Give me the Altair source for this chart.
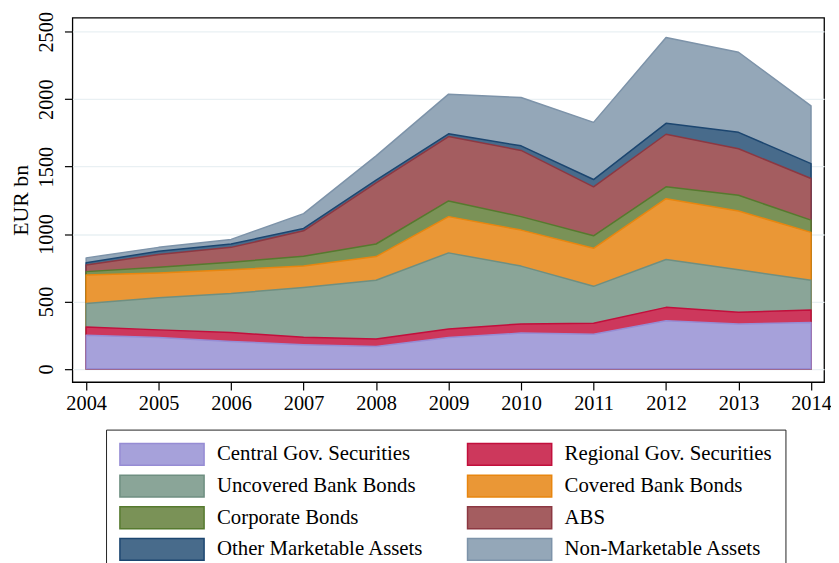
import altair as alt
import pandas as pd

years = [2004, 2005, 2006, 2007, 2008, 2009, 2010, 2011, 2012, 2013, 2014]

series_names = [
    "Central Gov. Securities",
    "Regional Gov. Securities",
    "Uncovered Bank Bonds",
    "Covered Bank Bonds",
    "Corporate Bonds",
    "ABS",
    "Other Marketable Assets",
    "Non-Marketable Assets",
]

central = [250, 232, 203, 179, 166, 232, 265, 257, 357, 333, 343]
regional = [60, 57, 66, 56, 55, 64, 68, 81, 99, 86, 93]
uncovered = [174, 238, 290, 368, 436, 564, 429, 274, 355, 316, 221]
covered = [212, 183, 176, 159, 176, 269, 267, 282, 451, 436, 355]
corporate = [25, 44, 56, 73, 93, 116, 100, 93, 88, 116, 91]
abs_vals = [49, 94, 110, 189, 453, 478, 491, 363, 390, 345, 309]
other = [17, 24, 25, 17, 20, 20, 34, 54, 81, 122, 110]
nonmarket = [36, 29, 34, 110, 181, 294, 358, 424, 637, 594, 429]

series_values = [central, regional, uncovered, covered, corporate, abs_vals, other, nonmarket]

fill_colors = ["#a6a1da", "#cd385c", "#8aa598", "#ea9736", "#7a9257", "#a45d60", "#486b8b", "#94a7b8"]
edge_colors = ["#968cd4", "#c20f3c", "#6f8f81", "#e8860f", "#567a2e", "#8c3842", "#1c4670", "#7d93a9"]

y_ticks = [0, 500, 1000, 1500, 2000, 2500]

rows = []
for k, (name, vals) in enumerate(zip(series_names, series_values)):
    for yr, v in zip(years, vals):
        rows.append({"year": yr, "series": name, "order": k, "value": v})
df = pd.DataFrame(rows)

FONT = "Liberation Serif"
NBSP = "\u00a0" * 3
LABEL_EXPR = f"datum.label + '{NBSP}'"

x_enc = alt.X(
    "year:Q",
    scale=alt.Scale(domain=[2003.81, 2014.18], nice=False, zero=False),
    axis=alt.Axis(
        values=years, format="d", title=None, grid=False, domain=False,
        tickSize=8, tickColor="#000", tickWidth=1.2,
        labelFont=FONT, labelFontSize=20.5, labelColor="#000",
        labelPadding=4, labelFlush=False, labelOverlap=False,
    ),
)
y_enc = alt.Y(
    "top:Q",
    stack=None,
    scale=alt.Scale(domain=[-98, 2605], nice=False, zero=False),
    axis=alt.Axis(
        values=y_ticks, format="d", title="EUR bn", grid=True,
        gridColor="#e9f0f3", gridWidth=1.3, domain=False,
        tickSize=8, tickColor="#000", tickWidth=1.2,
        labelFont=FONT, labelFontSize=20.5, labelColor="#000",
        labelAngle=-90, labelAlign="center", labelBaseline="alphabetic",
        labelPadding=12,
        titleFont=FONT, titleFontSize=22, titleFontWeight="normal", titleColor="#000",
        titleAngle=-90, titleX=-52, titleY=184, titleAlign="center", titleBaseline="middle",
    ),
)
fill_enc = alt.Fill(
    "series:N",
    scale=alt.Scale(domain=series_names, range=fill_colors),
    legend=alt.Legend(title=None, labelExpr=LABEL_EXPR),
)
stroke_enc = alt.Stroke(
    "series:N",
    scale=alt.Scale(domain=series_names, range=edge_colors),
    legend=alt.Legend(title=None, labelExpr=LABEL_EXPR),
)

base = alt.Chart(df).transform_window(
    top="sum(value)",
    groupby=["year"],
    sort=[alt.SortField("order")],
    frame=[None, 0],
)

layers = []
for name in reversed(series_names):
    layers.append(
        base.transform_filter(alt.datum.series == name)
        .mark_area(strokeWidth=1.5, strokeJoin="round")
        .encode(x=x_enc, y=y_enc, fill=fill_enc, stroke=stroke_enc)
    )

chart = (
    alt.layer(*layers)
    .properties(
        width=759,
        height=368,
        padding={"left": 65, "top": 7, "right": 7, "bottom": 180},
        autosize=alt.AutoSizeParams(type="none"),
    )
    .configure_view(stroke="#000", strokeWidth=1.3)
    .configure_legend(
        orient="none",
        legendX=34,
        legendY=416,
        direction="horizontal",
        columns=2,
        columnPadding=41,
        rowPadding=4,
        padding=13,
        strokeColor="#222",
        fillColor="#fff",
        symbolType="M-1,-1H6.727V1H-1Z",
        symbolSize=484,
        symbolStrokeWidth=1.5,
        symbolOpacity=1,
        labelFont=FONT,
        labelFontSize=21,
        labelColor="#000",
        labelOffset=75,
        labelLimit=400,
    )
)

chart.save("out.html", embed_options={"renderer": "svg", "actions": False})
